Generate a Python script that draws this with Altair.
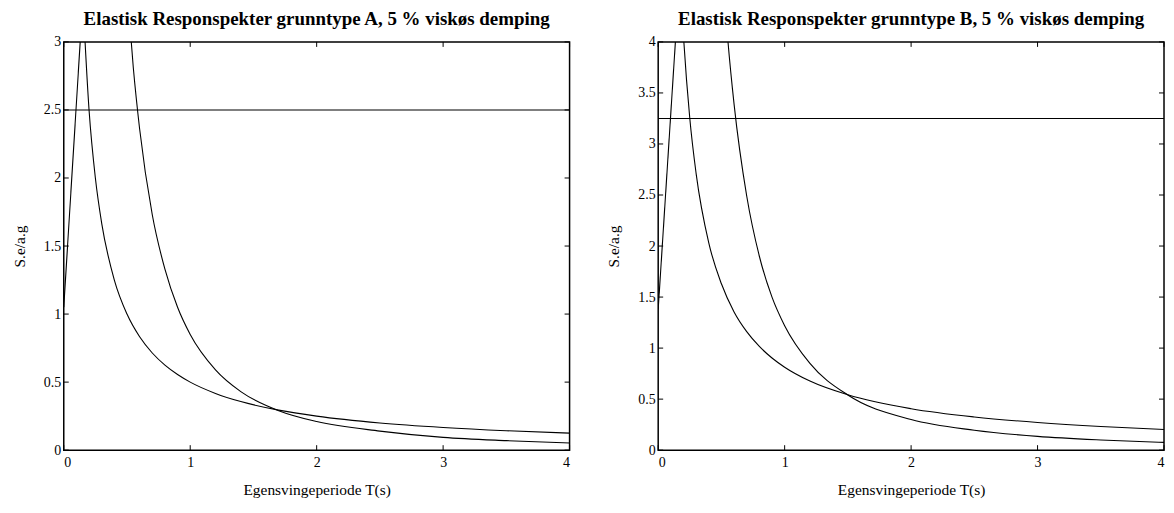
import altair as alt
import pandas as pd

# ---------------- Data ----------------
x_ticks = [0, 1, 2, 3, 4]

# Panel A (grunntype A)
yticks_A = [0, 0.5, 1, 1.5, 2, 2.5, 3]
plateau_A = 2.5
rise_A_T = [0.0, 0.15]
rise_A_S = [1.05, 3.3]
c1_A_T = [0.15, 0.2, 0.25, 0.3, 0.4, 0.5, 0.6, 0.7, 0.8, 0.9, 1.0, 1.2, 1.4, 1.7, 2.0, 2.5, 3.0, 3.5, 4.0]
c1_A_S = [3.33, 2.5, 2.0, 1.667, 1.25, 1.0, 0.833, 0.714, 0.625, 0.556, 0.5, 0.417, 0.357, 0.294, 0.25, 0.2, 0.167, 0.143, 0.125]
c2_A_T = [0.5, 0.55, 0.6, 0.7, 0.8, 0.9, 1.0, 1.2, 1.4, 1.7, 2.0, 2.5, 3.0, 3.5, 4.0]
c2_A_S = [3.4, 2.81, 2.36, 1.73, 1.33, 1.05, 0.85, 0.59, 0.43, 0.29, 0.21, 0.14, 0.094, 0.07, 0.053]

# Panel B (grunntype B)
yticks_B = [0, 0.5, 1, 1.5, 2, 2.5, 3, 3.5, 4]
plateau_B = 3.25
rise_B_T = [0.0, 0.15]
rise_B_S = [1.38, 4.27]
c1_B_T = [0.18, 0.2, 0.25, 0.3, 0.4, 0.5, 0.6, 0.7, 0.8, 0.9, 1.0, 1.2, 1.5, 2.0, 2.5, 3.0, 3.5, 4.0]
c1_B_S = [4.51, 4.06, 3.25, 2.71, 2.03, 1.63, 1.354, 1.161, 1.016, 0.903, 0.813, 0.677, 0.542, 0.406, 0.325, 0.271, 0.232, 0.203]
c2_B_T = [0.52, 0.55, 0.6, 0.7, 0.8, 0.9, 1.0, 1.2, 1.5, 2.0, 2.5, 3.0, 3.5, 4.0]
c2_B_S = [4.51, 4.03, 3.39, 2.49, 1.90, 1.50, 1.22, 0.85, 0.54, 0.30, 0.195, 0.135, 0.10, 0.076]

title_A = "Elastisk Responspekter grunntype A, 5 % viskøs demping"
title_B = "Elastisk Responspekter grunntype B, 5 % viskøs demping"
x_title = "Egensvingeperiode T(s)"
y_title = "S.e/a.g"

W, H = 508, 410
FONT = "Liberation Serif"
TICK = 5


def panel(title, ymax, yticks, plateau, rT, rS, c1T, c1S, c2T, c2S):
    rows = []
    for name, Ts, Ss in (("rise", rT, rS), ("c1", c1T, c1S), ("c2", c2T, c2S)):
        for t, s in zip(Ts, Ss):
            rows.append({"T": t, "S": s, "series": name})
    df = pd.DataFrame(rows)
    xs = alt.Scale(domain=[0, 4], nice=False, zero=False)
    ys = alt.Scale(domain=[0, ymax], nice=False, zero=False)

    lines = alt.Chart(df).mark_line(
        color="black", strokeWidth=1.1, clip=True, interpolate="monotone"
    ).encode(
        x=alt.X("T:Q", scale=xs, axis=alt.Axis(values=x_ticks, title=x_title, format="~g")),
        y=alt.Y("S:Q", scale=ys, axis=alt.Axis(values=yticks, title=y_title, format="~g")),
        detail="series:N",
    )
    plat = alt.Chart(pd.DataFrame({"S": [plateau]})).mark_rule(
        color="black", strokeWidth=1.1
    ).encode(y=alt.Y("S:Q", scale=ys))

    xt = pd.DataFrame({"T": x_ticks})
    yt = pd.DataFrame({"S": yticks})
    bt = alt.Chart(xt).mark_rule(color="black").encode(
        x=alt.X("T:Q", scale=xs), y=alt.value(H), y2=alt.value(H - TICK))
    tt = alt.Chart(xt).mark_rule(color="black").encode(
        x=alt.X("T:Q", scale=xs), y=alt.value(0), y2=alt.value(TICK))
    lt = alt.Chart(yt).mark_rule(color="black").encode(
        y=alt.Y("S:Q", scale=ys), x=alt.value(0), x2=alt.value(TICK))
    rt = alt.Chart(yt).mark_rule(color="black").encode(
        y=alt.Y("S:Q", scale=ys), x=alt.value(W), x2=alt.value(W - TICK))

    return alt.layer(lines, plat, bt, tt, lt, rt).properties(
        width=W, height=H,
        title=alt.TitleParams(
            title, font=FONT, fontSize=19, fontWeight="bold", color="black",
            anchor="middle", offset=6,
        ),
    )


left = panel(title_A, 3, yticks_A, plateau_A, rise_A_T, rise_A_S, c1_A_T, c1_A_S, c2_A_T, c2_A_S)
right = panel(title_B, 4, yticks_B, plateau_B, rise_B_T, rise_B_S, c1_B_T, c1_B_S, c2_B_T, c2_B_S)

chart = alt.hconcat(left, right, spacing=34).properties(
    padding={"left": 3, "top": 0, "right": 0, "bottom": 0}
).configure_view(
    stroke="black", strokeWidth=1.5
).configure_axis(
    grid=False, ticks=False, domain=False,
    labelFont=FONT, labelFontSize=14, labelColor="black", labelPadding=3,
    titleFont=FONT, titleFontSize=15.5, titleColor="black", titleFontWeight="normal",
).configure_axisX(
    labelPadding=5, titlePadding=14,
).configure_axisY(
    titlePadding=16,
)

chart.save("out.html", embed_options={"renderer": "svg", "actions": False})
